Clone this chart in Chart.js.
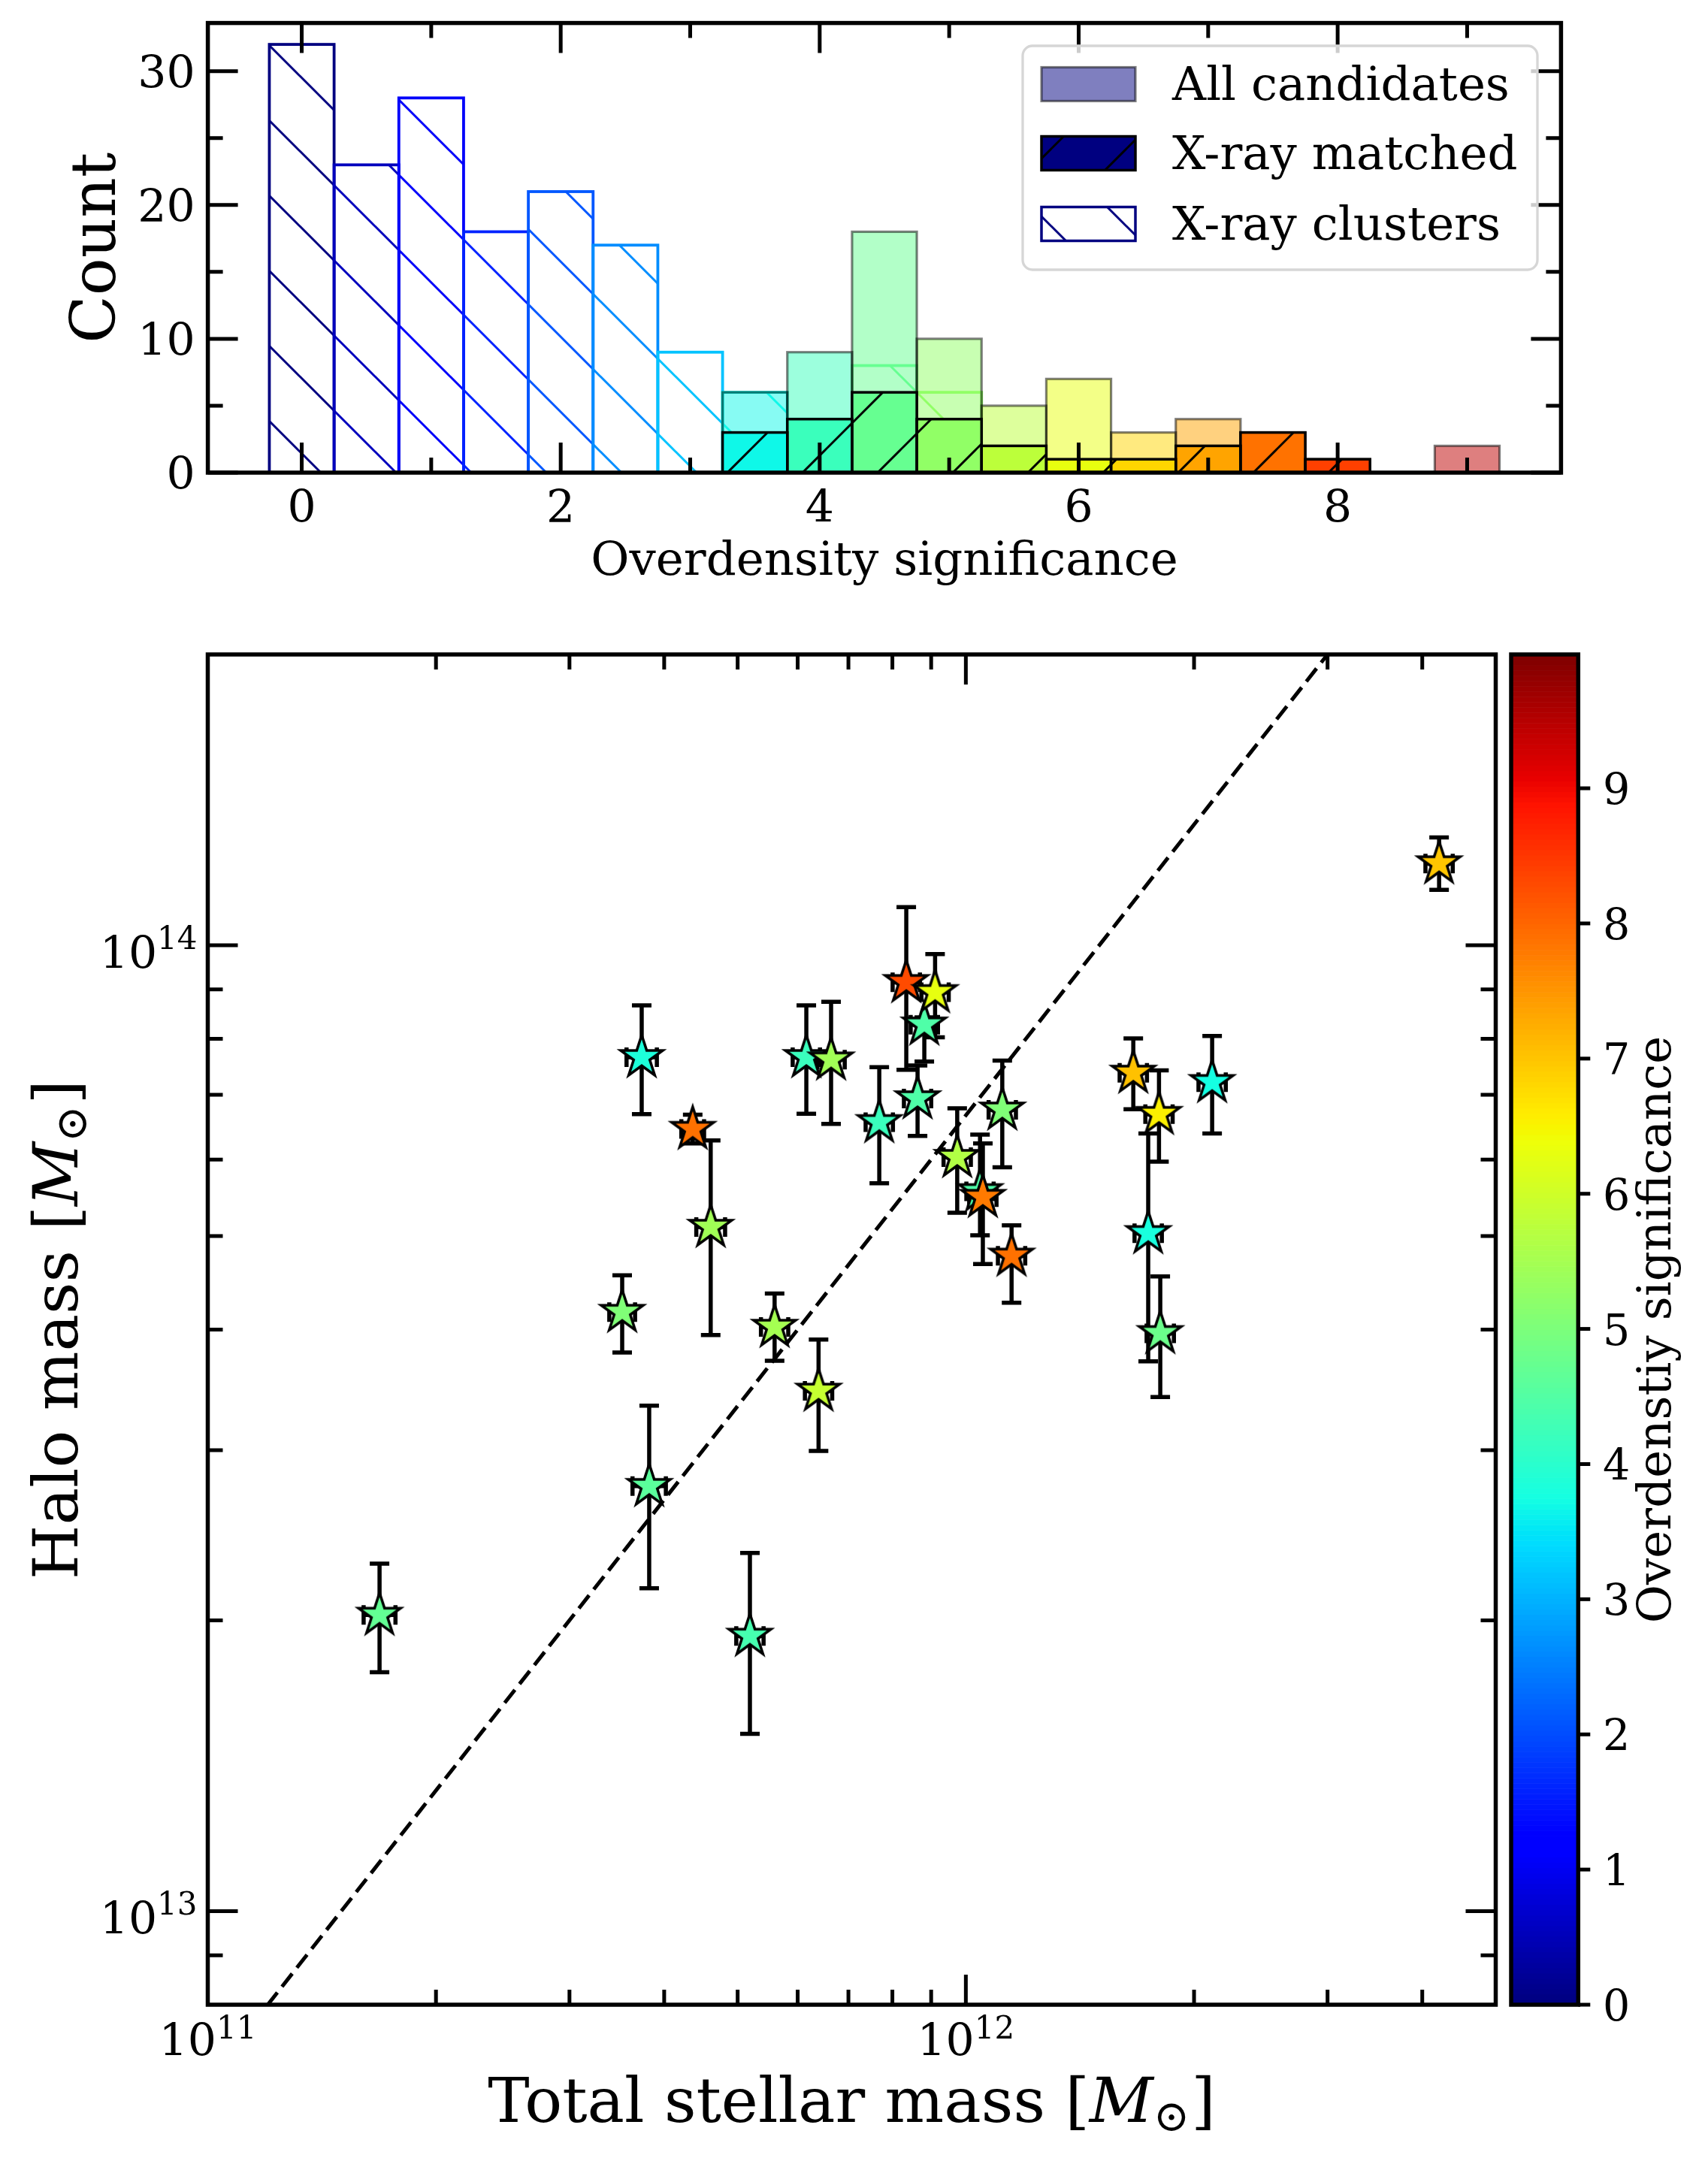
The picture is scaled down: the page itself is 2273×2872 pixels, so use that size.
<!DOCTYPE html>
<html><head><meta charset="utf-8">
<script src="https://cdn.jsdelivr.net/npm/chart.js@4.4.1/dist/chart.umd.min.js"></script>
<style>
html,body{margin:0;padding:0;background:#fff;}
#wrap{position:relative;width:2273px;height:2872px;background:#fff;overflow:hidden;}
canvas{position:absolute;left:0;}
#hist{top:0;width:2273px;height:840px;}
#scat{top:840px;width:2273px;height:2032px;}
</style></head><body>
<div id="wrap"><canvas id="hist" width="2273" height="840"></canvas><canvas id="scat" width="2273" height="2032"></canvas></div>
<script>
// ---------------- DATA ----------------
const binCenters    = [0,0.5,1,1.5,2,2.5,3,3.5,4,4.5,5,5.5,6,6.5,7,7.5,8,8.5,9];
const allCandidates = [0,0,0,0,0,0,0,6,9,18,10,5,7,3,4,3,1,0,2];
const xrayMatched   = [0,0,0,0,0,0,0,3,4,6,4,2,1,1,2,3,1,0,0];
const xrayClusters  = [32,23,28,18,21,17,9,6,4,8,6,0,0,0,0,0,0,0,0];
const legendLabels  = ['All candidates','X-ray matched','X-ray clusters'];

const histXTicks = [0,2,4,6,8];
const histXMinor = [1,3,5,7,9];
const histYTicks = [0,10,20,30];
const histYMinor = [5,15,25];

const stellarMass = [1.685e11,3.736e11,4.362e11,4.607e11,3.521e11,3.822e11,5.19e11,5.594e11,6.393e11,6.16e11,6.641e11,7.688e11,8.636e11,8.345e11,8.815e11,9.108e11,1.117e12,9.741e11,1.044e12,1.053e12,1.149e12,1.663e12,1.798e12,2.113e12,1.74e12,1.805e12,4.21e12];
const haloMass    = [2.026e13,7.657e13,6.452e13,5.108e13,4.171e13,2.754e13,1.927e13,4.025e13,3.456e13,7.657e13,7.612e13,6.557e13,6.94e13,9.155e13,8.274e13,8.939e13,6.756e13,6.034e13,5.562e13,5.486e13,4.769e13,7.376e13,6.686e13,7.214e13,5.032e13,3.965e13,1.215e14];
const haloLow     = [1.767e13,6.686e13,6.233e13,3.948e13,3.787e13,2.159e13,1.526e13,3.714e13,2.995e13,6.69e13,6.531e13,5.67e13,6.346e13,7.431e13,7.579e13,8.03e13,5.891e13,5.284e13,5.008e13,4.677e13,4.264e13,6.763e13,5.97e13,6.385e13,3.709e13,3.406e13,1.141e14];
const haloHigh    = [2.289e13,8.664e13,6.677e13,6.28e13,4.553e13,3.336e13,2.349e13,4.36e13,3.907e13,8.664e13,8.74e13,7.476e13,7.507e13,1.095e14,8.42e13,9.793e13,7.597e13,6.778e13,6.367e13,6.233e13,5.129e13,8.009e13,7.42e13,8.054e13,6.385e13,4.541e13,1.293e14];
const stellarErrDex = [0.021,0.020,0.015,0.019,0.017,0.022,0.018,0.018,0.018,0.018,0.018,0.018,0.018,0.018,0.018,0.018,0.018,0.018,0.018,0.018,0.018,0.018,0.018,0.018,0.018,0.018,0.018];
const significance  = [4.7,3.85,7.9,5.45,5.05,4.6,4.35,5.5,5.9,4.2,5.45,4.2,4.45,8.3,4.45,6.3,5.05,5.65,4.45,7.8,7.9,7.05,6.55,3.75,3.8,4.8,7.0];

const massXTicks = [1e11,1e12];
const massXTickExp = ['11','12'];
const massXMinor = [2e11,3e11,4e11,5e11,6e11,7e11,8e11,9e11,2e12,3e12,4e12];
const haloYTicks = [1e13,1e14];
const haloYTickExp = ['13','14'];
const haloYMinor = [9e12,2e13,3e13,4e13,5e13,6e13,7e13,8e13,9e13];
const relationX = [1e11,5e12];
const relationRatio = 1/0.015;
const cbarMax = 9.99;
const cbarTicks = [0,1,2,3,4,5,6,7,8,9];

// ---------------- HELPERS ----------------
const JR=[[0,0],[0.35,0],[0.66,1],[0.89,1],[1,0.5]];
const JG=[[0,0],[0.125,0],[0.375,1],[0.64,1],[0.91,0],[1,0]];
const JB=[[0,0.5],[0.11,1],[0.34,1],[0.65,0],[1,0]];
function seg(s,x){x=Math.max(0,Math.min(1,x));for(let i=0;i<s.length-1;i++){if(x<=s[i+1][0]){const t=(x-s[i][0])/(s[i+1][0]-s[i][0]);return s[i][1]+t*(s[i+1][1]-s[i][1]);}}return s[s.length-1][1];}
function jet(x){return [Math.round(255*seg(JR,x)),Math.round(255*seg(JG,x)),Math.round(255*seg(JB,x))];}
function jetCss(x,a){const c=jet(x);return `rgba(${c[0]},${c[1]},${c[2]},${a===undefined?1:a})`;}
function binColor(i,a){return jetCss(binCenters[i]/9.5,a);}

function hatch(ctx,bg,lineColor,dir,lw){
  const c=document.createElement('canvas');c.width=100;c.height=100;
  const g=c.getContext('2d');
  if(bg){g.fillStyle=bg;g.fillRect(0,0,100,100);}
  g.strokeStyle=lineColor;g.lineWidth=lw;g.beginPath();
  for(let k=-3;k<=3;k++){
    if(dir==='/'){const c0=97+100*k;g.moveTo(c0+60,-60);g.lineTo(c0-160,160);}
    else{const c0=98+100*k;g.moveTo(c0-60,-60);g.lineTo(c0+160,160);}
  }
  g.stroke();
  return ctx.createPattern(c,'repeat');
}
const SERIF="'DejaVu Serif','DejaVu Sans',serif";
function F(px,style){return (style?style+' ':'')+px+'px '+SERIF;}
function drawRich(ctx,parts,x,y,align){
  let w=0;parts.forEach(p=>{ctx.font=p[1];w+=ctx.measureText(p[0]).width+(p[3]||0);});
  let cx=align==='center'?x-w/2:(align==='right'?x-w:x);
  ctx.textAlign='left';ctx.textBaseline='alphabetic';
  parts.forEach(p=>{ctx.font=p[1];ctx.fillText(p[0],cx,y+(p[2]||0));cx+=ctx.measureText(p[0]).width+(p[3]||0);});
}
function starImage(color){
  const s=90;const c=document.createElement('canvas');c.width=s;c.height=s;
  const g=c.getContext('2d');const R=29.5,r=R*0.381966;
  g.beginPath();
  for(let k=0;k<10;k++){const a=-Math.PI/2+k*Math.PI/5;const rad=k%2===0?R:r;const px=s/2+rad*Math.cos(a),py=s/2+rad*Math.sin(a);if(k)g.lineTo(px,py);else g.moveTo(px,py);}
  g.closePath();g.fillStyle=color;g.fill();g.lineWidth=3.5;g.lineJoin='miter';g.strokeStyle='#000';g.stroke();
  return c;
}
const TICK_MAJ=40, TICK_MIN=20, TICK_W=5, SPINE_W=5.5, TICK_FONT=60;

// ---------------- HISTOGRAM ----------------
const hctx=document.getElementById('hist').getContext('2d');
const histValues=[xrayMatched,allCandidates,xrayClusters];
const histPlugin={
  id:'histDeco',
  afterDatasetDraw(chart,args){
    const i=args.index,ctx=chart.ctx,vals=histValues[i];
    ctx.save();ctx.lineJoin='miter';
    args.meta.data.forEach((el,j)=>{
      if(!vals[j])return;
      const p=el.getProps(['x','y','base','width'],true);
      if(i===0){ctx.strokeStyle='#000';ctx.lineWidth=3.5;}
      else if(i===1){ctx.strokeStyle='rgba(0,0,0,0.5)';ctx.lineWidth=3.2;}
      else{ctx.strokeStyle=binColor(j,1);ctx.lineWidth=3.8;}
      ctx.strokeRect(p.x-p.width/2,p.y,p.width,p.base-p.y);
    });
    ctx.restore();
  },
  afterDraw(chart){
    const ctx=chart.ctx,ca=chart.chartArea,xs=chart.scales.x,ys=chart.scales.y;
    ctx.save();ctx.strokeStyle='#000';ctx.fillStyle='#000';ctx.lineCap='butt';
    const vt=(v,len)=>{const x=xs.getPixelForValue(v);ctx.lineWidth=TICK_W;ctx.beginPath();ctx.moveTo(x,ca.bottom);ctx.lineTo(x,ca.bottom-len);ctx.moveTo(x,ca.top);ctx.lineTo(x,ca.top+len);ctx.stroke();};
    const ht=(v,len)=>{const y=ys.getPixelForValue(v);ctx.lineWidth=TICK_W;ctx.beginPath();ctx.moveTo(ca.left,y);ctx.lineTo(ca.left+len,y);ctx.moveTo(ca.right,y);ctx.lineTo(ca.right-len,y);ctx.stroke();};
    histXTicks.forEach(v=>vt(v,TICK_MAJ));histXMinor.forEach(v=>vt(v,TICK_MIN));
    histYTicks.forEach(v=>ht(v,TICK_MAJ));histYMinor.forEach(v=>ht(v,TICK_MIN));
    ctx.lineWidth=SPINE_W;ctx.lineJoin='miter';ctx.strokeRect(ca.left,ca.top,ca.right-ca.left,ca.bottom-ca.top);
    ctx.font=F(TICK_FONT);ctx.textBaseline='alphabetic';
    ctx.textAlign='center';histXTicks.forEach(v=>ctx.fillText(String(v),xs.getPixelForValue(v),ca.bottom+66));
    ctx.textAlign='right';histYTicks.forEach(v=>ctx.fillText(String(v),ca.left-17,ys.getPixelForValue(v)+22));
    ctx.font=F(62.5);ctx.textAlign='center';ctx.fillText('Overdensity significance',(ca.left+ca.right)/2,ca.bottom+136);
    ctx.save();ctx.translate(153,(ca.top+ca.bottom)/2);ctx.rotate(-Math.PI/2);ctx.font=F(83);ctx.textAlign='center';ctx.fillText('Count',0,0);ctx.restore();
    // legend
    const lx=1361,ly=61,lw=685,lh=298,rr=13;
    ctx.beginPath();ctx.roundRect(lx,ly,lw,lh,rr);ctx.fillStyle='rgba(255,255,255,0.8)';ctx.fill();
    ctx.lineWidth=3.3;ctx.strokeStyle='rgb(214,214,214)';ctx.stroke();
    const centers=[112,204,298],px=1386,pw=125,ph=45;
    const fills=['rgba(0,0,128,0.5)',hatch(ctx,'rgb(0,0,128)','#000','/',3),hatch(ctx,'#fff','rgb(0,0,128)','\\',3)];
    const edges=[['rgba(0,0,0,0.5)',3.2],['#000',3.5],['rgb(0,0,128)',3.5]];
    [0,1,2].forEach((k,n)=>{
      const cy=centers[n];
      ctx.fillStyle=fills[k];ctx.fillRect(px,cy-ph/2,pw,ph);
      ctx.strokeStyle=edges[k][0];ctx.lineWidth=edges[k][1];ctx.strokeRect(px,cy-ph/2,pw,ph);
      ctx.fillStyle='#000';ctx.font=F(62.5);ctx.textAlign='left';ctx.fillText(legendLabels[k],1560,cy+21);
    });
    ctx.restore();
  }
};
const mkBars=(vals)=>binCenters.map((c,i)=>({x:c,y:vals[i]}));
new Chart(hctx,{
  type:'bar',
  data:{datasets:[
    {label:legendLabels[1],data:mkBars(xrayMatched),backgroundColor:binCenters.map((c,i)=>hatch(hctx,binColor(i,1),'#000','/',3)),borderWidth:0,grouped:false,barPercentage:1,categoryPercentage:1,order:1,inflateAmount:0},
    {label:legendLabels[0],data:mkBars(allCandidates),backgroundColor:binCenters.map((c,i)=>binColor(i,0.5)),borderWidth:0,grouped:false,barPercentage:1,categoryPercentage:1,order:2,inflateAmount:0},
    {label:legendLabels[2],data:mkBars(xrayClusters),backgroundColor:binCenters.map((c,i)=>hatch(hctx,null,binColor(i,1),'\\',3)),borderWidth:0,grouped:false,barPercentage:1,categoryPercentage:1,order:3,inflateAmount:0}
  ]},
  options:{responsive:false,animation:false,events:[],devicePixelRatio:1,
    layout:{padding:{left:276.6,top:30.6,right:2273-2077.4,bottom:840-629}},
    scales:{x:{type:'linear',min:-0.725,max:9.725,offset:false,display:false},y:{type:'linear',min:0,max:33.6,display:false}},
    plugins:{legend:{display:false},tooltip:{enabled:false}}},
  plugins:[histPlugin]
});

// ---------------- SCATTER ----------------
const sctx=document.getElementById('scat').getContext('2d');
const starImgs=significance.map(v=>starImage(jetCss(v/cbarMax)));
const scatPlugin={
  id:'scatDeco',
  beforeDatasetDraw(chart,args){
    if(args.index!==0)return;
    const ctx=chart.ctx,xs=chart.scales.x,ys=chart.scales.y;
    ctx.save();ctx.strokeStyle='#000';ctx.lineWidth=5.5;ctx.lineCap='butt';
    const cw=13;
    stellarMass.forEach((m,i)=>{
      const x=xs.getPixelForValue(m),y=ys.getPixelForValue(haloMass[i]);
      const y0=ys.getPixelForValue(haloLow[i]),y1=ys.getPixelForValue(haloHigh[i]);
      const f=Math.pow(10,stellarErrDex[i]);
      const x0=xs.getPixelForValue(m/f),x1=xs.getPixelForValue(m*f);
      ctx.beginPath();
      ctx.moveTo(x,y0);ctx.lineTo(x,y1);
      ctx.moveTo(x-cw,y0);ctx.lineTo(x+cw,y0);ctx.moveTo(x-cw,y1);ctx.lineTo(x+cw,y1);
      ctx.moveTo(x0,y);ctx.lineTo(x1,y);
      ctx.moveTo(x0,y-cw);ctx.lineTo(x0,y+cw);ctx.moveTo(x1,y-cw);ctx.lineTo(x1,y+cw);
      ctx.stroke();
    });
    ctx.restore();
  },
  afterDraw(chart){
    const ctx=chart.ctx,ca=chart.chartArea,xs=chart.scales.x,ys=chart.scales.y,cb=chart.scales.cb;
    ctx.save();ctx.strokeStyle='#000';ctx.fillStyle='#000';ctx.lineCap='butt';
    const vt=(v,len)=>{const x=xs.getPixelForValue(v);ctx.lineWidth=TICK_W;ctx.beginPath();ctx.moveTo(x,ca.bottom);ctx.lineTo(x,ca.bottom-len);ctx.moveTo(x,ca.top);ctx.lineTo(x,ca.top+len);ctx.stroke();};
    const ht=(v,len)=>{const y=ys.getPixelForValue(v);ctx.lineWidth=TICK_W;ctx.beginPath();ctx.moveTo(ca.left,y);ctx.lineTo(ca.left+len,y);ctx.moveTo(ca.right,y);ctx.lineTo(ca.right-len,y);ctx.stroke();};
    massXTicks.forEach(v=>vt(v,TICK_MAJ));massXMinor.forEach(v=>vt(v,TICK_MIN));
    haloYTicks.forEach(v=>ht(v,TICK_MAJ));haloYMinor.forEach(v=>ht(v,TICK_MIN));
    ctx.lineWidth=SPINE_W;ctx.lineJoin='miter';ctx.strokeRect(ca.left,ca.top,ca.right-ca.left,ca.bottom-ca.top);
    // tick labels
    massXTicks.forEach((v,i)=>drawRich(ctx,[['10',F(TICK_FONT)],[massXTickExp[i],F(42),-23]],xs.getPixelForValue(v),ca.bottom+68,'center'));
    haloYTicks.forEach((v,i)=>{const y=ys.getPixelForValue(v);drawRich(ctx,[['10',F(TICK_FONT)],[haloYTickExp[i],F(42),-26]],ca.left-14,y+31,'right');});
    // axis labels
    drawRich(ctx,[['Total stellar mass [',F(83)],['M',F(83,'italic')],['\u2299',F(58),12,2],[']',F(83)]],(ca.left+ca.right)/2,ca.bottom+156,'center');
    ctx.save();ctx.translate(103,(ca.top+ca.bottom)/2);ctx.rotate(-Math.PI/2);
    drawRich(ctx,[['Halo mass [',F(83)],['M',F(83,'italic')],['\u2299',F(58),12,2],[']',F(83)]],0,0,'center');ctx.restore();
    // colorbar
    const cl=2011,cr=2100.3,N=256;
    for(let k=0;k<N;k++){
      const v0=k/N*cbarMax,v1=(k+1)/N*cbarMax;
      const ya=cb.getPixelForValue(v0),yb=cb.getPixelForValue(v1);
      ctx.fillStyle=jetCss(k/(N-1));ctx.fillRect(cl,yb,cr-cl,ya-yb+0.6);
    }
    ctx.strokeStyle='#000';ctx.lineWidth=5.5;ctx.strokeRect(cl,cb.getPixelForValue(cbarMax),cr-cl,cb.getPixelForValue(0)-cb.getPixelForValue(cbarMax));
    ctx.fillStyle='#000';ctx.font=F(57);ctx.textAlign='left';ctx.textBaseline='alphabetic';
    cbarTicks.forEach(v=>{const y=cb.getPixelForValue(v);ctx.lineWidth=5;ctx.beginPath();ctx.moveTo(cr,y);ctx.lineTo(cr+16,y);ctx.stroke();ctx.fillText(String(v),2133,y+21);});
    ctx.save();ctx.translate(2223,(ca.top+ca.bottom)/2);ctx.rotate(-Math.PI/2);ctx.font=F(62.5);ctx.textAlign='center';ctx.fillText('Overdenstiy significance',0,0);ctx.restore();
    ctx.restore();
  }
};
new Chart(sctx,{
  type:'scatter',
  data:{datasets:[
    {type:'scatter',data:stellarMass.map((m,i)=>({x:m,y:haloMass[i]})),pointStyle:starImgs,pointRadius:30,order:0},
    {type:'line',data:relationX.map(x=>({x:x,y:x*relationRatio})),borderColor:'#000',borderWidth:5,borderDash:[22,10],pointRadius:0,fill:false,tension:0,order:1}
  ]},
  options:{responsive:false,animation:false,events:[],devicePixelRatio:1,
    layout:{padding:{left:276.5,top:30.4,right:2273-1990.5,bottom:2032-1828}},
    scales:{
      x:{type:'logarithmic',min:1e11,max:5e12,display:false},
      y:{type:'logarithmic',min:8e12,max:2e14,display:false},
      cb:{type:'linear',axis:'y',position:'right',min:0,max:cbarMax,display:false}
    },
    plugins:{legend:{display:false},tooltip:{enabled:false}}},
  plugins:[scatPlugin]
});
</script>
</body></html>
